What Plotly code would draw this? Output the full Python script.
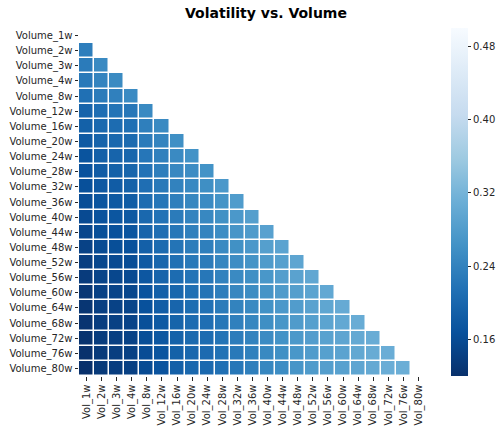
import plotly.graph_objects as go

row_labels = ["Volume_1w", "Volume_2w", "Volume_3w", "Volume_4w", "Volume_8w", "Volume_12w",
              "Volume_16w", "Volume_20w", "Volume_24w", "Volume_28w", "Volume_32w", "Volume_36w",
              "Volume_40w", "Volume_44w", "Volume_48w", "Volume_52w", "Volume_56w", "Volume_60w",
              "Volume_64w", "Volume_68w", "Volume_72w", "Volume_76w", "Volume_80w"]
col_labels = ["Vol_1w", "Vol_2w", "Vol_3w", "Vol_4w", "Vol_8w", "Vol_12w", "Vol_16w", "Vol_20w",
              "Vol_24w", "Vol_28w", "Vol_32w", "Vol_36w", "Vol_40w", "Vol_44w", "Vol_48w", "Vol_52w",
              "Vol_56w", "Vol_60w", "Vol_64w", "Vol_68w", "Vol_72w", "Vol_76w", "Vol_80w"]

# lower-triangle values (row r holds correlations with the first r columns)
v_1w = []
v_2w = [0.234]
v_3w = [0.229, 0.251]
v_4w = [0.226, 0.243, 0.252]
v_8w = [0.213, 0.229, 0.236, 0.253]
v_12w = [0.196, 0.211, 0.219, 0.223, 0.251]
v_16w = [0.191, 0.203, 0.207, 0.213, 0.235, 0.251]
v_20w = [0.181, 0.196, 0.201, 0.206, 0.229, 0.242, 0.259]
v_24w = [0.172, 0.190, 0.196, 0.200, 0.222, 0.236, 0.251, 0.264]
v_28w = [0.169, 0.184, 0.191, 0.198, 0.217, 0.234, 0.248, 0.256, 0.264]
v_32w = [0.166, 0.178, 0.184, 0.193, 0.211, 0.227, 0.240, 0.250, 0.258, 0.273]
v_36w = [0.162, 0.174, 0.179, 0.185, 0.207, 0.222, 0.235, 0.246, 0.253, 0.266, 0.279]
v_40w = [0.158, 0.169, 0.175, 0.179, 0.201, 0.217, 0.230, 0.242, 0.248, 0.261, 0.273, 0.284]
v_44w = [0.152, 0.164, 0.168, 0.174, 0.196, 0.211, 0.224, 0.237, 0.242, 0.256, 0.268, 0.278,
         0.288]
v_48w = [0.146, 0.159, 0.164, 0.168, 0.190, 0.206, 0.219, 0.232, 0.235, 0.251, 0.261, 0.273,
         0.284, 0.291]
v_52w = [0.140, 0.153, 0.158, 0.162, 0.181, 0.200, 0.213, 0.226, 0.230, 0.245, 0.256, 0.266,
         0.278, 0.286, 0.295]
v_56w = [0.136, 0.149, 0.153, 0.158, 0.177, 0.196, 0.207, 0.220, 0.223, 0.239, 0.251, 0.259,
         0.271, 0.283, 0.290, 0.298]
v_60w = [0.130, 0.145, 0.149, 0.153, 0.171, 0.190, 0.200, 0.213, 0.219, 0.234, 0.246, 0.255,
         0.266, 0.278, 0.284, 0.293, 0.300]
v_64w = [0.128, 0.142, 0.146, 0.150, 0.168, 0.186, 0.197, 0.210, 0.215, 0.229, 0.241, 0.251,
         0.262, 0.273, 0.280, 0.290, 0.296, 0.304]
v_68w = [0.126, 0.139, 0.144, 0.148, 0.165, 0.181, 0.195, 0.207, 0.211, 0.224, 0.236, 0.246,
         0.258, 0.269, 0.277, 0.286, 0.293, 0.300, 0.306]
v_72w = [0.124, 0.137, 0.142, 0.146, 0.163, 0.177, 0.193, 0.204, 0.208, 0.219, 0.231, 0.241,
         0.253, 0.264, 0.274, 0.282, 0.289, 0.295, 0.302, 0.307]
v_76w = [0.122, 0.135, 0.140, 0.144, 0.161, 0.174, 0.191, 0.202, 0.205, 0.216, 0.227, 0.238,
         0.249, 0.260, 0.271, 0.280, 0.286, 0.292, 0.299, 0.305, 0.309]
v_80w = [0.120, 0.134, 0.139, 0.143, 0.159, 0.171, 0.190, 0.201, 0.203, 0.213, 0.224, 0.235,
         0.246, 0.256, 0.268, 0.278, 0.283, 0.288, 0.295, 0.302, 0.309, 0.310]

rows = [v_1w, v_2w, v_3w, v_4w, v_8w, v_12w, v_16w, v_20w, v_24w, v_28w, v_32w, v_36w,
        v_40w, v_44w, v_48w, v_52w, v_56w, v_60w, v_64w, v_68w, v_72w, v_76w, v_80w]

n = len(col_labels)
z = []
for r in rows:
    z.append(list(r) + [None] * (n - len(r)))

blues = ['rgb(247,251,255)', 'rgb(222,235,247)', 'rgb(198,219,239)', 'rgb(158,202,225)',
         'rgb(107,174,214)', 'rgb(66,146,198)', 'rgb(33,113,181)', 'rgb(8,81,156)', 'rgb(8,48,107)']
cscale = [[i / 8, c] for i, c in enumerate(reversed(blues))]

FONT = "DejaVu Sans"
TXT = "#262626"

L, R, T, B = 78.5, 78, 28, 56
plot_w = 504 - L - R

fig = go.Figure(go.Heatmap(
    z=z, x=col_labels, y=row_labels,
    colorscale=cscale, zmin=0.12, zmax=0.50,
    xgap=1.5, ygap=1.5,
    hoverongaps=False,
    colorbar=dict(
        x=(451 - L) / plot_w, xanchor="left", xpad=0,
        y=0.5, yanchor="middle", len=1, ypad=0,
        thickness=17, outlinewidth=0,
        tickvals=[0.16, 0.24, 0.32, 0.40, 0.48],
        ticktext=["0.16", "0.24", "0.32", "0.40", "0.48"],
        ticks="outside", ticklen=3.5, tickwidth=1, tickcolor=TXT,
        tickfont=dict(family=FONT, size=10, color=TXT),
    ),
))

fig.update_layout(
    width=504, height=432,
    margin=dict(l=L, r=R, t=T, b=B, pad=0, autoexpand=False),
    paper_bgcolor="white", plot_bgcolor="white",
    font=dict(family=FONT, size=10, color=TXT),
    title=dict(text="<b>Volatility vs. Volume</b>", x=266 / 504, xanchor="center",
               y=1 - 13.5 / 432, yanchor="middle", yref="container", xref="container",
               font=dict(family=FONT, size=14, color="black")),
)
fig.update_xaxes(type="category", tickangle=-90, ticks="outside", ticklen=3.5, tickwidth=1,
                 tickcolor=TXT, showgrid=False, zeroline=False, showline=False,
                 tickfont=dict(family=FONT, size=10, color=TXT))
fig.update_yaxes(type="category", autorange="reversed", ticks="outside", ticklen=3.5,
                 tickwidth=1, tickcolor=TXT, showgrid=False, zeroline=False, showline=False,
                 tickfont=dict(family=FONT, size=10, color=TXT))

fig.write_html("out.html", config={"displayModeBar": False},
               post_script="document.body.style.margin='0';")
